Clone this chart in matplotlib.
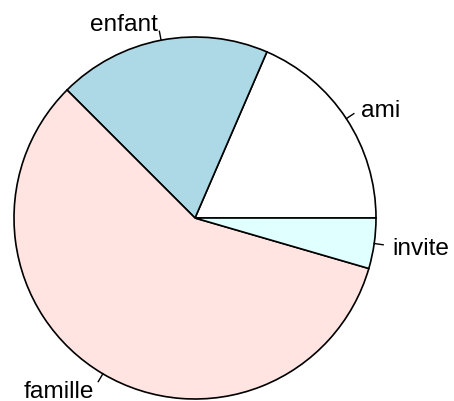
import numpy as np
import matplotlib
matplotlib.use("Agg")
import matplotlib.pyplot as plt

labels = ["ami", "enfant", "famille", "invite"]
values = [18.5, 19.0, 58.0, 4.5]
colors = ["white", "#ADD8E6", "#FFE4E1", "#E0FFFF"]

W, H = 454, 401
cx, cy, r = 195, 218, 181  # pixel geometry

fig = plt.figure(figsize=(W / 100, H / 100), dpi=100)
ax = fig.add_axes([0, 0, 1, 1])
ax.pie(values, colors=colors, startangle=0, counterclock=True, radius=1,
       wedgeprops=dict(edgecolor="black", linewidth=1.2, antialiased=True))
ax.set_xlim(-cx / r, (W - cx) / r)
ax.set_ylim(-(H - cy) / r, cy / r)
ax.set_aspect("equal", adjustable="datalim")
ax.set_xlim(-cx / r, (W - cx) / r)
ax.set_ylim(-(H - cy) / r, cy / r)
ax.axis("off")

vals = np.array(values, dtype=float)
cum = np.concatenate([[0], np.cumsum(vals) / vals.sum()])
for i, lab in enumerate(labels):
    mid = 2 * np.pi * (cum[i] + cum[i + 1]) / 2
    c, s = np.cos(mid), np.sin(mid)
    ax.plot([c, 1.05 * c], [s, 1.05 * s], color="black", lw=1.0)
    ax.text(1.1 * c, 1.1 * s, lab, ha="left" if c > 0 else "right",
            va="center_baseline", fontsize=17.6, family="Liberation Sans")

fig.savefig("out.png", dpi=100)
